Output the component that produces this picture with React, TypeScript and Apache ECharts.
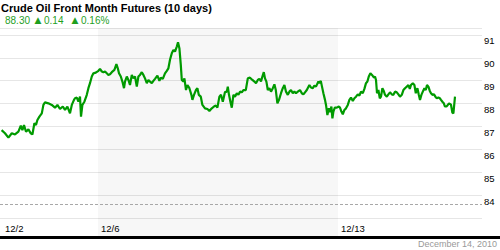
import { useEffect, useRef } from 'react';
import * as echarts from 'echarts';

// time axis: hours since the start of the 12/2 session (24 h per trading day)
const hoursA = [-0.2,1.5,3.2,4.9,6.5,8.2,9.4,10.2,11.0,12.0,13.2,14.4,15.2,16.2,17.0,17.7,18.7,19.9,20.7,21.5,23.2,24.9,26.5,27.7,29.0,30.4,31.5,32.7,34.0,34.9,36.0];
const pricesA = [86.84,86.70,86.51,86.70,86.65,86.77,87.03,86.84,87.06,86.77,86.87,86.70,86.65,87.14,87.06,87.28,87.43,87.57,87.94,88.05,88.01,87.94,87.82,87.94,87.76,87.87,87.72,87.87,87.57,87.94,88.16];
const hoursB = [36.5,37.4,38.2,39.0,39.5,40.2,41.2,42.4,43.2,44.0,44.9,45.7,46.9,48.2,49.0,49.9,50.7,51.5,52.4,53.2,54.0,54.9,56.2,57.2,57.9,58.5,59.4,60.2,61.0,61.5,62.4,63.2,64.0,64.9,65.7,66.5,67.4,68.2,69.0,69.9,70.7,71.5,72.4,73.2];
const pricesB = [88.23,88.26,88.08,88.30,87.43,87.94,88.08,88.38,88.67,88.89,89.18,89.32,89.35,89.43,89.51,89.40,89.37,89.40,89.32,89.25,89.28,89.37,89.47,89.72,89.54,89.32,89.18,88.96,88.67,88.96,89.18,89.03,88.81,89.25,89.10,89.18,88.74,89.18,89.25,89.37,89.25,89.10,88.89,89.03];
const hoursC = [74.0,74.9,75.7,76.5,77.7,78.7,79.4,80.4,81.5,82.4,83.2,84.0,84.9,85.7,86.5,87.4,88.0,88.7,89.4,89.9,90.7,91.2,92.0,92.7,93.7,94.7,95.2,96.0,97.0,97.7,98.4,99.4,100.2,101.5,102.7,103.7,104.9,106.0,106.9,107.7,108.7,109.5,110.4,111.5];
const pricesC = [88.96,88.89,88.99,89.08,89.22,88.99,89.13,89.08,89.32,89.43,89.54,89.91,90.20,90.34,90.27,90.49,90.68,90.42,89.69,89.03,88.96,89.10,88.59,88.81,88.67,88.38,88.16,88.38,88.59,88.67,88.38,88.30,87.94,87.79,87.76,87.68,87.79,87.87,87.91,87.82,88.30,88.38,88.08,88.50];
const hoursD = [112.4,112.9,113.5,114.2,114.9,115.7,116.5,117.4,118.2,119.0,119.9,120.7,121.9,122.9,124.0,125.2,126.2,127.0,127.9,128.7,129.5,130.2,130.9,131.5,132.2,132.9,133.7,134.5,135.4,136.2,136.9,137.7,138.5,139.5,140.4,141.2,142.0,142.9,143.7,144.5,145.4,146.2,147.0,147.9];
const pricesD = [88.52,88.74,88.38,88.08,87.82,88.38,88.30,88.45,88.38,88.52,88.49,88.59,88.59,89.10,89.13,89.03,88.96,88.89,89.03,89.08,88.96,89.18,89.37,89.10,88.96,88.59,88.67,88.52,88.67,88.84,88.59,88.01,88.16,88.45,88.67,88.81,88.52,88.38,88.52,88.59,88.45,88.52,88.45,88.52];
const hoursE = [149.0,149.9,150.7,151.5,152.4,153.7,154.5,155.4,156.2,157.0,158.2,158.7,159.4,160.0,160.7,161.5,162.0,162.7,163.4,164.0,164.7,165.2,165.7,166.4,167.4,168.4,169.0,169.7,170.4,171.2,172.0,172.9,173.7,174.5,175.4,176.2,177.0,177.9,178.7,179.5,180.4,181.2,182.0,182.7,183.4,184.2,185.0,186.0];
const pricesE = [88.59,88.45,88.40,88.49,88.59,88.81,88.70,88.67,88.78,88.74,88.96,88.89,88.99,88.74,88.45,88.16,87.94,87.50,87.79,87.62,87.87,87.35,87.65,87.82,87.82,87.87,87.82,87.65,87.53,87.72,87.79,87.94,88.16,88.26,88.11,88.23,88.30,88.40,88.35,88.52,88.45,88.64,88.89,88.96,89.18,89.32,89.25,89.13];
const hoursF = [186.5,187.0,187.5,188.2,188.9,189.5,190.2,190.9,191.5,192.4,193.2,194.0,194.9,195.7,196.5,197.4,198.2,199.0,199.9,200.7,201.5,202.4,203.2,203.9,204.5,205.4,206.2,206.9,207.7,208.4,209.0,209.7,210.4,211.2,211.9,212.5,213.2,213.9,214.5,215.2,216.0,216.7,217.4,218.2,218.9,219.5,220.2,220.9,221.5,222.2,222.9,223.5,224.5,225.2,225.7,226.5];
const pricesF = [89.18,89.03,88.45,88.59,88.23,88.30,88.67,88.55,88.38,88.30,88.40,88.49,88.40,88.38,88.52,88.49,88.40,88.30,88.38,88.59,88.67,88.74,88.81,88.64,88.81,88.89,88.81,88.45,88.67,88.38,88.16,88.38,88.52,88.67,88.59,88.81,88.74,88.55,88.45,88.38,88.40,88.30,88.23,88.26,88.23,88.16,88.08,88.01,87.87,87.87,87.94,88.01,87.95,87.60,87.57,88.30];

const dayLabels = ['12/2', '12/6', '12/13'];
const dayLabelHours = [0, 48, 168];
const shadedWeek = [48, 168];
const yMin = 83;
const yMax = 91.3;
const yStep = 1;
const separatorLevel = 83.6;
const lastPrice = '88.30';
const netChange = '0.14';
const pctChange = '0.16%';
const titleText = 'Crude Oil Front Month Futures (10 days)';
const dateText = 'December 14, 2010';

const hours = [...hoursA, ...hoursB, ...hoursC, ...hoursD, ...hoursE, ...hoursF];
const prices = [...pricesA, ...pricesB, ...pricesC, ...pricesD, ...pricesE, ...pricesF];

const FONT = '"Liberation Sans", Arial, sans-serif';
const GREEN_LINE = '#009a00';
const GREEN_TEXT = '#1f9f1f';
const SHADE = 'rgba(0,0,0,0.03)';

export default function App() {
  const ref = useRef<HTMLDivElement>(null);
  useEffect(() => {
    const chart = echarts.init(ref.current!, null, { renderer: 'svg' });
    chart.setOption({
      animation: false,
      backgroundColor: '#fff',
      textStyle: { fontFamily: FONT },
      grid: [
        { left: 0, top: 28, width: 482, height: 190 },
        { left: 0, top: 218, width: 500, height: 19.5 },
      ],
      xAxis: [
        {
          gridIndex: 0, type: 'value', min: -1, max: 240,
          axisLine: { show: false }, axisTick: { show: false },
          axisLabel: { show: false }, splitLine: { show: false },
        },
        {
          gridIndex: 1, type: 'value', min: -1, max: 249,
          axisLine: { show: true, lineStyle: { color: '#000', width: 3 } },
          axisTick: { show: false }, splitLine: { show: false },
          axisLabel: {
            inside: true, margin: 4, align: 'left', padding: [0, 0, 0, 3],
            fontSize: 9.5, color: '#000', fontFamily: FONT,
            customValues: dayLabelHours,
            formatter: (v: number) => {
              const i = dayLabelHours.indexOf(v);
              return i >= 0 ? dayLabels[i] : '';
            },
          },
        },
      ],
      yAxis: [
        {
          gridIndex: 0, type: 'value', position: 'right',
          min: yMin, max: yMax, interval: yStep,
          axisLine: { show: false }, axisTick: { show: false },
          splitLine: { show: true, lineStyle: { color: '#e6e6e6', width: 1 } },
          axisLabel: {
            margin: 2, fontSize: 9.5, color: '#000', fontFamily: FONT,
            verticalAlign: 'top', padding: [1, 0, 0, 0],
            showMinLabel: false,
            formatter: (v: number) => (Number.isInteger(v) ? String(v) : ''),
          },
        },
        {
          gridIndex: 1, type: 'value', min: 0, max: 1, show: false,
        },
      ],
      series: [
        {
          type: 'line', xAxisIndex: 0, yAxisIndex: 0,
          data: hours.map((h, i) => [h, prices[i]]),
          symbol: 'none', showSymbol: false,
          lineStyle: { color: GREEN_LINE, width: 2.2 },
          markArea: {
            silent: true, itemStyle: { color: SHADE },
            data: [[{ xAxis: shadedWeek[0] }, { xAxis: shadedWeek[1] }]],
          },
          markLine: {
            silent: true, symbol: 'none', label: { show: false },
            lineStyle: { type: [3, 2], color: '#a8a8a8', width: 1 },
            data: [{ yAxis: separatorLevel }],
          },
        },
        {
          type: 'line', xAxisIndex: 1, yAxisIndex: 1,
          data: [[0, 0.5]], symbol: 'none', lineStyle: { opacity: 0 },
          markArea: {
            silent: true, itemStyle: { color: SHADE },
            data: [[{ xAxis: shadedWeek[0] }, { xAxis: shadedWeek[1] }]],
          },
        },
      ],
      graphic: [
        {
          type: 'text', x: 1, y: 2,
          style: { text: titleText, font: `bold 11px ${FONT}`, fill: '#000' },
        },
        {
          type: 'text', x: 5, y: 15,
          style: { text: lastPrice, font: `10px ${FONT}`, fill: GREEN_TEXT },
        },
        {
          type: 'text', x: 34.5, y: 15,
          style: { text: '▲', font: `9px "DejaVu Sans", ${FONT}`, fill: GREEN_TEXT },
        },
        {
          type: 'text', x: 44, y: 15,
          style: { text: netChange, font: `10px ${FONT}`, fill: GREEN_TEXT },
        },
        {
          type: 'text', x: 71.5, y: 15,
          style: { text: '▲', font: `9px "DejaVu Sans", ${FONT}`, fill: GREEN_TEXT },
        },
        {
          type: 'text', x: 81, y: 15,
          style: { text: pctChange, font: `10px ${FONT}`, fill: GREEN_TEXT },
        },
        {
          type: 'text', x: 497, y: 244,
          style: { text: dateText, font: `9px ${FONT}`, fill: '#999', align: 'right', verticalAlign: 'middle' },
        },
      ],
    });
    return () => chart.dispose();
  }, []);
  return <div ref={ref} style={{ position: 'fixed', left: 0, top: 0, width: 500, height: 250 }} />;
}
